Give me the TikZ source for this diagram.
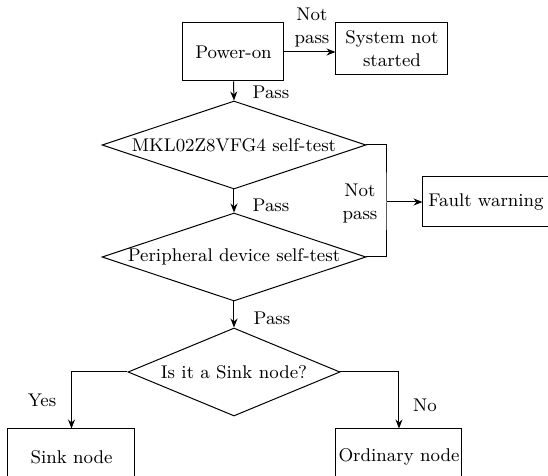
\documentclass[tikz,border=0pt]{standalone}
\usetikzlibrary{shapes.geometric}
\usetikzlibrary{arrows.meta}

\begin{document}
\begin{tikzpicture}[x=0.5pt, y=-0.5pt, line width=0.5pt, font=\fontsize{9.2}{11.5}\selectfont,
  box/.style={draw, rectangle, inner sep=0pt, align=center},
  decision/.style={draw, diamond, inner sep=0pt, minimum width=132pt, minimum height=44pt},
  arrow/.style={-{Stealth[length=4.5pt, width=3.5pt]}},
  lbl/.style={inner sep=0pt, align=center}]

\clip (0,0) rectangle (548,476);

% boxes
\node[box, minimum width=50.5pt, minimum height=29pt] (pwr) at (233.5,52) {Power-on};
\node[box, minimum width=56pt, minimum height=26pt] (sys) at (392,49) {System not\\started};
\node[box, minimum width=63pt, minimum height=25pt] (fault) at (486,202) {Fault warning};
\node[box, minimum width=63.5pt, minimum height=28pt] (sink) at (71.5,457) {Sink node};
\node[box, minimum width=63pt, minimum height=28pt] (ord) at (399,457) {Ordinary node};

% decisions
\node[decision, label=center:{MKL02Z8VFG4 self-test}] (mcu) at (234,145) {};
\node[decision, label=center:{Peripheral device self-test}] (periph) at (234,257) {};
\node[decision, minimum width=106pt, label=center:{Is it a Sink node?}] (issink) at (234,372) {};

\coordinate (jn) at (387,202);

% connectors
\draw[arrow] (pwr.east) -- (pwr.east -| sys.west);
\draw[arrow] (pwr.south) -- (mcu.north);
\draw[arrow] (mcu.south) -- (periph.north);
\draw[arrow] (periph.south) -- (issink.north);

\draw (mcu.east) -| (jn) |- (periph.east);
\draw[arrow] (jn) -- (fault.west);

\draw[arrow] (issink.west) -| (sink.north);
\draw[arrow] (issink.east) -| (ord.north);

% labels
\node[lbl] (np1) at (312,28) {Not\\pass};
\node[lbl] (np2) at (360,204) {Not\\pass};
\node[lbl] (p1) at (271,92) {Pass};
\node[lbl] (p2) at (271,205) {Pass};
\node[lbl] (p3) at (272,318) {Pass};
\node[lbl] (yes) at (42,400) {Yes};
\node[lbl] (no) at (425,405) {No};

\end{tikzpicture}
\end{document}
